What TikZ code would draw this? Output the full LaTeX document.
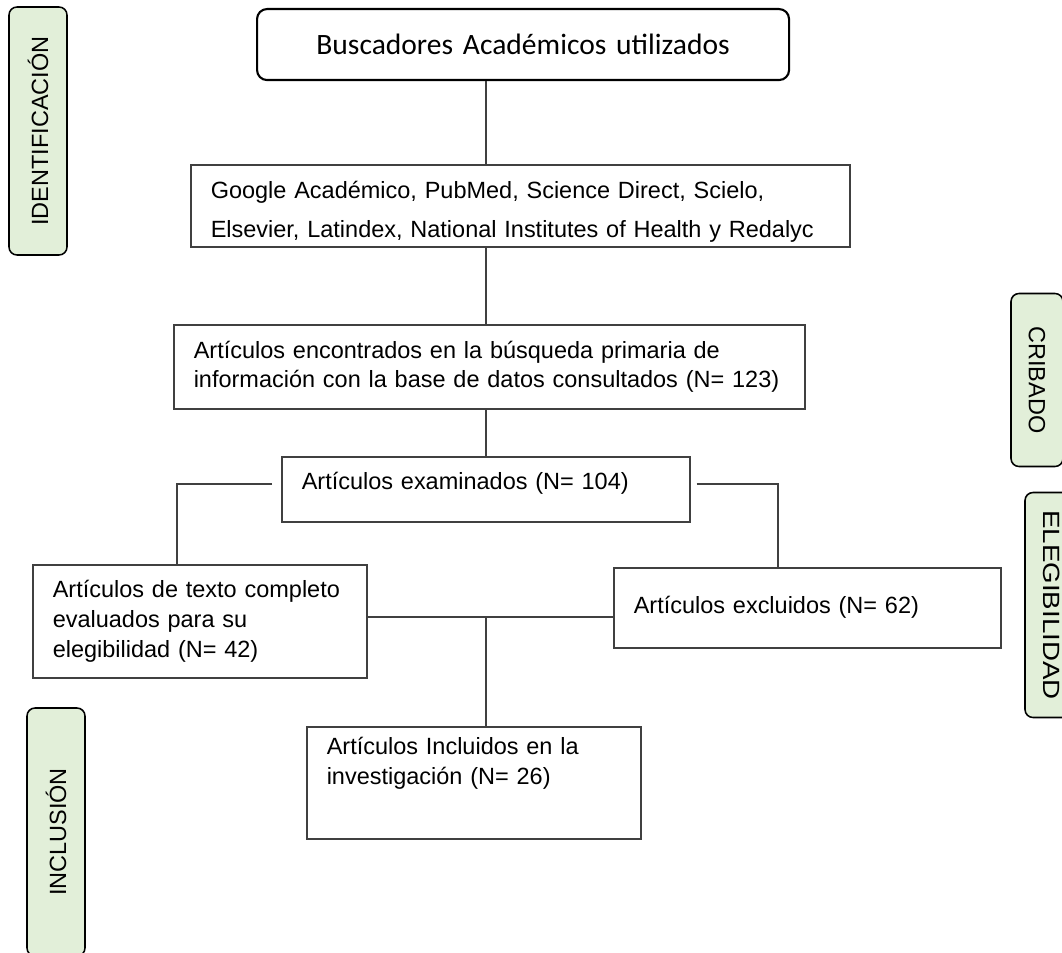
\documentclass[tikz,border=0pt]{standalone}
\usepackage{fontspec}
\setmainfont{Liberation Sans}
\newfontfamily\calibrifont{Carlito}
\newfontfamily\widefont[FakeStretch=1.18]{Liberation Sans}
\usetikzlibrary{positioning}
\newlength\px
\setlength\px{0.025cm}
\definecolor{stagegreen}{HTML}{E2EFD9}
\definecolor{linegray}{HTML}{404040}

\begin{document}
\begin{tikzpicture}[x=0.025cm, y=-0.025cm,
  box/.style={draw=linegray, line width=1.1pt, anchor=north west, align=left,
    inner xsep=20\px, inner ysep=0pt, font=\fontsize{16.7pt}{21.3pt}\selectfont},
  stage/.style={draw=black, line width=1.1pt, fill=stagegreen, rounded corners=8\px,
    minimum width=248\px, minimum height=58\px, inner sep=0pt,
    font=\fontsize{16.7pt}{19.9pt}\selectfont},
  link/.style={draw=linegray, line width=1.1pt}]
\useasboundingbox (0,0) rectangle (1062,952);

% Stages (green tabs)
\node[stage, rotate=90] (identif) at (38,131) {IDENTIFICACIÓN};
\node[stage, rotate=-90, minimum width=173\px, minimum height=52\px] (cribado) at (1037,380) {CRIBADO};
\node[stage, rotate=-90, minimum width=225\px, minimum height=54\px,
  font=\widefont\fontsize{16.7pt}{19.9pt}\selectfont] (elegib) at (1052,605) {ELEGIBILIDAD};
\node[stage, rotate=90] (inclus) at (56,832) {INCLUSIÓN};

% Flow boxes
\node[box, draw=black, line width=1.5pt, rounded corners=10\px, align=center,
  text width=492\px, minimum height=71\px,
  font=\calibrifont\fontsize{21pt}{25pt}\selectfont] (engines) at (256,8)
  {Buscadores Académicos utilizados};
\node[box, text width=619\px, minimum height=82\px, text height=29\px,
  font=\fontsize{16.7pt}{27.7pt}\selectfont] (databases) at (190,164)
  {Google Académico, PubMed, Science Direct, Scielo,\\Elsevier, Latindex, National Institutes of Health y Redalyc};
\node[box, text width=591\px, minimum height=84\px] (found) at (173,324)
  {Artículos encontrados en la búsqueda primaria de\\información con la base de datos consultados (N= 123)};
\node[box, text width=368\px, minimum height=65\px, text depth=16\px] (examined) at (281,456)
  {Artículos examinados (N= 104)};
\node[box, text width=294\px, minimum height=113\px] (fulltext) at (32,564)
  {Artículos de texto completo\\evaluados para su\\elegibilidad (N= 42)};
\node[box, text width=347\px, minimum height=80\px] (excluded) at (613,567)
  {Artículos excluidos (N= 62)};
\node[box, text width=294\px, minimum height=112\px, text depth=73\px] (included) at (306,726)
  {Artículos Incluidos en la\\investigación (N= 26)};

% Connectors
\coordinate (leftbend) at (177,484);
\coordinate (rightbend) at (778,484);
\coordinate (joint) at (486,617);
\draw[link] (engines.south -| examined.north) -- (databases.north -| examined.north);
\draw[link] (databases.south -| examined.north) -- (found.north -| examined.north);
\draw[link] (found.south -| examined.north) -- (examined.north);
\draw[link, shorten <=9\px] (examined.west |- leftbend) -- (leftbend) -- (leftbend |- fulltext.north);
\draw[link, shorten <=6\px] (examined.east |- rightbend) -- (rightbend) -- (rightbend |- excluded.north);
\draw[link] (fulltext.east |- joint) -- (excluded.west |- joint);
\draw[link] (joint) -- (joint |- included.north);
\end{tikzpicture}
\end{document}
